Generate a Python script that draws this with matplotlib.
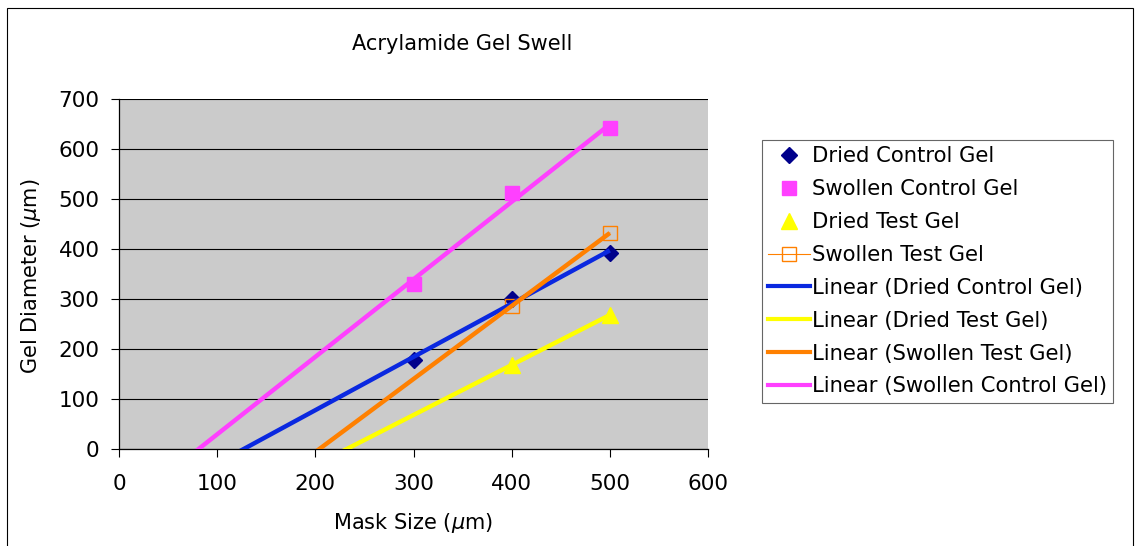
import numpy as np
import matplotlib
matplotlib.use("Agg")
import matplotlib.pyplot as plt
from matplotlib.lines import Line2D
from matplotlib.patches import Rectangle

# ---- data ----
mask_control = [300, 400, 500]
dried_control = [179, 301, 392]
swollen_control = [331, 511, 641]
mask_test = [400, 500]
dried_test = [168, 268]
swollen_test = [286, 432]

x_ticks = [0, 100, 200, 300, 400, 500, 600]
y_ticks = [0, 100, 200, 300, 400, 500, 600, 700]

title = "Acrylamide Gel Swell"
x_label = r"Mask Size ($\mu$m)"
y_label = r"Gel Diameter ($\mu$m)"

c_navy = "#00008B"
c_blue = "#0A28E0"
c_pink = "#FF40FF"
c_yellow = "#FFFF00"
c_orange = "#FF8000"

plt.rcParams['font.family'] = ['DejaVu Sans']
plt.rcParams['mathtext.fontset'] = 'dejavusans'

W, H = 1135, 546
fig = plt.figure(figsize=(W / 100, H / 100), dpi=100)
fig.patch.set_facecolor("white")

# outer border
fig.add_artist(Rectangle((7 / W, -0.05), (1133 - 7) / W, 1 - 8 / H + 0.05,
                         transform=fig.transFigure, fill=False,
                         edgecolor="black", linewidth=0.8))

ax = fig.add_axes([119 / W, 1 - 449 / H, (708 - 119) / W, (449 - 99) / H])
ax.set_facecolor("#CBCBCB")
ax.set_xlim(0, 600)
ax.set_ylim(0, 700)
ax.set_xticks(x_ticks)
ax.set_yticks(y_ticks)
ax.tick_params(direction="out", length=6, width=0.8, labelsize=15.5, colors="black")
ax.tick_params(axis="x", pad=12)
ax.tick_params(axis="y", pad=8)
for s in ["top", "right"]:
    ax.spines[s].set_visible(False)
for s in ["left", "bottom"]:
    ax.spines[s].set_color("black")
    ax.spines[s].set_linewidth(0.9)
ax.yaxis.grid(True, color="black", linewidth=0.8)
ax.set_axisbelow(True)

fig.text(413 / W, 1 - 523 / H, x_label, ha="center", va="center", fontsize=15)
fig.text(31 / W, 1 - 276 / H, y_label, ha="center", va="center", fontsize=15,
         rotation=90)
fig.text(462 / W, 1 - 44 / H, title, ha="center", va="center", fontsize=15)

# markers
ax.plot(mask_control, dried_control, linestyle="none", marker="D", ms=8.5,
        color=c_navy, zorder=3)
ax.plot(mask_control, swollen_control, linestyle="none", marker="s", ms=10.5,
        color=c_pink, zorder=3)
ax.plot(mask_test, dried_test, linestyle="none", marker="^", ms=12,
        color=c_yellow, zorder=3)
ax.plot(mask_test, swollen_test, linestyle="-", lw=0.8, marker="s", ms=10,
        color=c_orange, markerfacecolor="none", markeredgewidth=1.0, zorder=3)

# linear trend lines (backward extended, clipped at axis)
def trend(xs, ys, color):
    m, b = np.polyfit(xs, ys, 1)
    xx = np.array([0.0, max(xs)])
    ax.plot(xx, m * xx + b, color=color, lw=3.2, zorder=4, solid_capstyle="butt")

trend(mask_control, dried_control, c_blue)
trend(mask_test, dried_test, c_yellow)
trend(mask_test, swollen_test, c_orange)
trend(mask_control, swollen_control, c_pink)

handles = [
    Line2D([], [], linestyle="none", marker="D", ms=8.5, color=c_navy),
    Line2D([], [], linestyle="none", marker="s", ms=10.5, color=c_pink),
    Line2D([], [], linestyle="none", marker="^", ms=12, color=c_yellow),
    Line2D([], [], linestyle="-", lw=0.8, marker="s", ms=10, color=c_orange,
           markerfacecolor="none", markeredgewidth=1.0),
    Line2D([], [], color=c_blue, lw=3),
    Line2D([], [], color=c_yellow, lw=3),
    Line2D([], [], color=c_orange, lw=3),
    Line2D([], [], color=c_pink, lw=3),
]
labels = ["Dried Control Gel", "Swollen Control Gel", "Dried Test Gel",
          "Swollen Test Gel", "Linear (Dried Control Gel)",
          "Linear (Dried Test Gel)", "Linear (Swollen Test Gel)",
          "Linear (Swollen Control Gel)"]
leg = fig.legend(handles, labels, loc="upper left",
                 bbox_to_anchor=(762 / W, 1 - 140 / H),
                 fontsize=15.2, frameon=True, fancybox=False, shadow=False,
                 handlelength=1.95, handletextpad=0.1, labelspacing=0.61,
                 borderpad=0.3, borderaxespad=0, numpoints=1)
leg.get_frame().set_edgecolor("#404040")
leg.get_frame().set_linewidth(0.8)

fig.savefig("out.png", dpi=100, facecolor="white")
